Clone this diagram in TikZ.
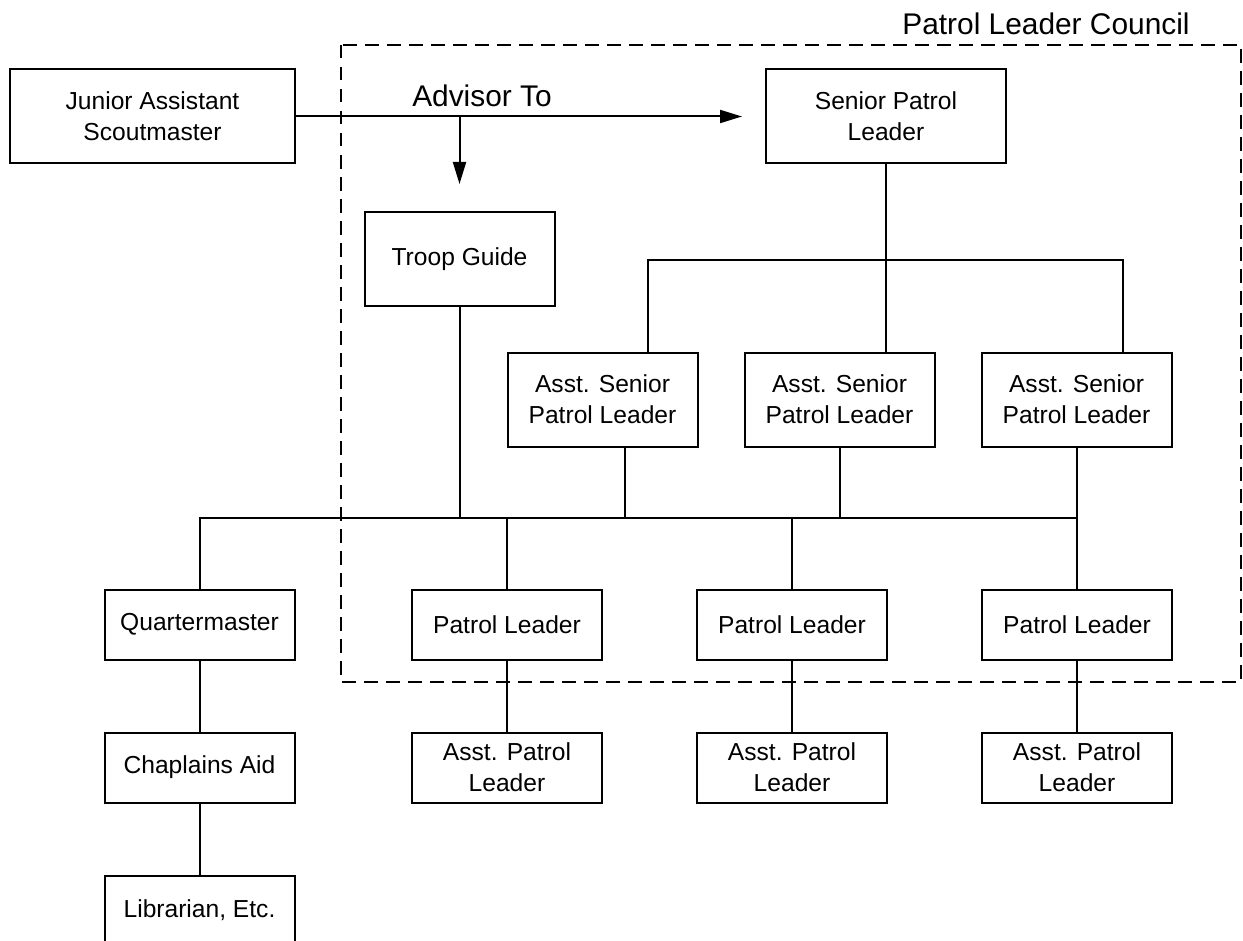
\documentclass[tikz,border=0pt]{standalone}
\usepackage{fontspec}
\setmainfont{Liberation Sans}
\usetikzlibrary{positioning, arrows.meta}

\begin{document}
\begin{tikzpicture}[x=0.2mm, y=-0.2mm, node distance = 14.2mm and 18.6mm, line width=0.4mm,
        box/.style={draw, minimum width=38mm, minimum height=18.8mm, align=center,
                    font=\fontsize{14}{17.6}\selectfont},
        flat/.style={box, minimum height=14mm},
        lbl/.style={font=\fontsize{17}{20}\selectfont},
        advarrow/.style={-{Triangle[length=4.4mm, width=2.6mm]}}]
        \useasboundingbox (0,0) rectangle (1243,941);
        % top
        \node (jas) [box, minimum width=57mm] at (152.5,116.5) {Junior Assistant\\Scoutmaster};
        \node (spl) [box, minimum width=48mm] at (886,116.5) {Senior Patrol\\Leader};
        \node (tg)  [box] at (459.5,259) {Troop Guide};
        % assistants
        \node (aspl1) [box] at (602.5,399.5) {Asst. Senior\\Patrol Leader};
        \foreach \i [count=\xi from 1] in {2,3}
            \node (aspl\i) [box, right=9mm of aspl\xi] {Asst. Senior\\Patrol Leader};
        % patrols
        \node (qm)  [flat] at (199.5,624.5) {Quartermaster};
        \node (pl1) [flat] at (507,624.5) {Patrol Leader};
        \foreach \i [count=\xi from 1] in {2,3}
            \node (pl\i) [flat, right=of pl\xi] {Patrol Leader};
        \foreach \i in {1,2,3}
            \node (apl\i) [flat, below=of pl\i] {Asst. Patrol\\Leader};
        \node (chap) [flat, below=of qm] {Chaplains Aid};
        \node (lib)  [flat, below=of chap] {Librarian, Etc.};
        % advisor
        \coordinate (adv) at (jas.east -| tg.north);
        \draw[advarrow, shorten >=4.6mm] (jas.east) -- (spl.west);
        \draw[advarrow, shorten >=5.4mm] (adv) -- (tg.north);
        \node (advisor) [lbl, anchor=base] at (482,107) {Advisor To};
        % senior patrol leader
        \coordinate[below=19mm of spl.south] (fork);
        \draw (spl.south) -- (aspl2.north -| spl.south);
        \draw ([xshift=9.1mm]aspl1.north) |- (fork) -| ([xshift=9.3mm]aspl3.north);
        % bus
        \coordinate (bus) at (0,518);
        \draw (qm.north) |- (bus -| pl3.north);
        \draw (tg.south) -- (tg.south |- bus);
        \draw ([xshift=4.5mm]aspl1.south) -- ([xshift=4.5mm]aspl1.south |- bus);
        \draw (aspl2.south) -- (aspl2.south |- bus);
        \draw (aspl3.south -| pl3.north) -- (pl3.north);
        \foreach \i in {1,2}
            \draw (pl\i.north) -- (pl\i.north |- bus);
        \foreach \i in {1,2,3}
            \draw (pl\i) -- (apl\i);
        \draw (qm) -- (chap) -- (lib);
        % council
        \draw[dash pattern=on 2.7mm off 1.7mm] (341,45) rectangle (1241,682);
        \node (council) [lbl, anchor=base] at (1046,35) {Patrol Leader Council};
\end{tikzpicture}
\end{document}
